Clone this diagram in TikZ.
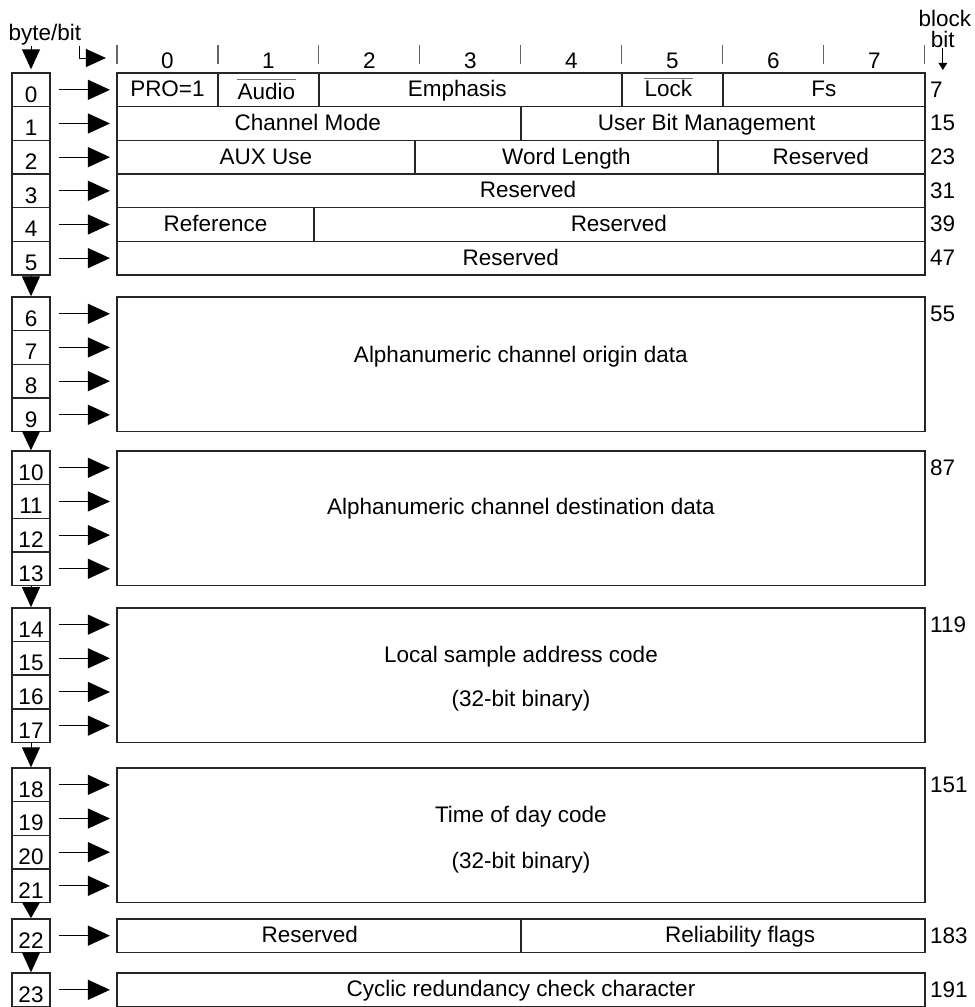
\documentclass[tikz,border=0pt]{standalone}
\usepackage{fontspec}
\setmainfont{Liberation Sans}
\usetikzlibrary{arrows.meta,positioning}

\begin{document}
\begin{tikzpicture}[x=2.525cm, y=-0.8415cm,
    every node/.style={font=\fontsize{16}{19}\selectfont},
    cell/.style={draw=black!85, line width=1pt},
    fieldtext/.style={anchor=base},
    bitnum/.style={anchor=base west, inner sep=0pt},
    bytebox/.style={draw=black!85, line width=1pt, inner sep=0pt,
        minimum width=0.95cm, minimum height=0.8415cm, text height=0.62cm, text depth=0pt},
    bytearrow/.style={-{Triangle[length=0.55cm, width=0.5cm]}, line width=0.7pt,
        shorten <=0.2cm, shorten >=0.175cm},
    tick/.style={draw=black!60, line width=0.8pt},
    overbar/.style={draw=black!55, line width=0.8pt, shorten <=0.11cm, shorten >=0.11cm}]

\useasboundingbox (-1.158,-2.169) rectangle (8.495,27.75);

% Header: bit numbers and ticks
\foreach \x in {0,...,8} {
    \draw[tick] (\x,-0.83) -- (\x,-0.27);
}
\foreach \x in {0,...,7} {
    \node[fieldtext] (c\x) at (\x+0.5,-0.12) {\x};
}

\node[anchor=base, inner sep=0pt] (bytebit) at (-0.713,-0.951) {byte/bit};
\node[anchor=base, inner sep=0pt] (block) at (8.198,-1.367) {block};
\node[anchor=base, inner sep=0pt] (bitlbl) at (8.178,-0.743) {bit};
\coordinate (bitaxis) at (-0.109,-0.446);
\coordinate (blockaxis) at (8.178,-0.089);

% Byte boxes on the left, with their arrows
\foreach \i/\t in {0/0,1/1,2/2,3/3,4/4,5/5,6/6.655,7/7.655,8/8.655,9/9.655,
        10/11.23,11/12.23,12/13.23,13/14.23,14/15.89,15/16.89,16/17.89,17/18.89,
        18/20.65,19/21.65,20/22.65,21/23.65,22/25.13,23/26.74} {
    \node[bytebox] (b\i) at (-0.851,\t+0.5) {\i};
    \coordinate (r\i) at (0,\t+0.5);
    \draw[bytearrow] (b\i) -- (r\i);
}

% Arrows between the groups of bytes
\foreach \a/\b/\l in {5/6/0.5,9/10/0.48,13/14/0.5,17/18/0.5,21/22/0.4,22/23/0.5} {
    \draw[-{Triangle[length=\l cm, width=0.45cm]}, line width=0.7pt] (b\a) -- (b\b);
}

\draw[-{Triangle[length=0.5cm, width=0.45cm]}, line width=0.7pt, shorten >=0.075cm]
    (bytebit.south -| b0.north) -- (b0.north);
\draw[-{Triangle[length=0.5cm, width=0.45cm]}, line width=0.7pt]
    ([xshift=-0.05cm]bytebit.south east) |- (bitaxis);
\draw[-{Triangle[length=0.18cm, width=0.22cm]}, line width=0.7pt] (bitlbl.south) -- (blockaxis);

% Single-row fields
\foreach \xa/\xb/\t/\nm/\xc/\txt in {0/1/0/pro/0.5/PRO=1, 2/5/0/emph/3.37/Emphasis,
        6/8/0/fs/7/Fs, 0/4/1/chmode/1.89/Channel Mode, 4/8/1/userbit/5.84/User Bit Management,
        0/2.95/2/aux/1.475/AUX Use, 2.95/5.95/2/wordlen/4.45/Word Length,
        5.95/8/2/resa/6.97/Reserved, 0/8/3/resb/4.07/Reserved,
        0/1.95/4/ref/0.975/Reference, 1.95/8/4/resc/4.97/Reserved,
        0/8/5/resd/3.9/Reserved, 0/4/25.13/rese/1.91/Reserved,
        4/8/25.13/relflags/6.17/Reliability flags,
        0/8/26.74/crc/4/Cyclic redundancy check character} {
    \draw[cell] (\xa,\t) rectangle (\xb,\t+1);
    \node[fieldtext] (\nm) at (\xc,\t+0.71) {\txt};
}

% Barred fields
\draw[cell] (1,0) rectangle (2,1);
\node[fieldtext, inner ysep=0.26em] (audio) at (1.48,0.8) {Audio};
\draw[overbar] (audio.north west) -- (audio.north east);
\draw[cell] (5,0) rectangle (6,1);
\node[fieldtext, inner ysep=0.13em] (lock) at (5.46,0.71) {Lock};
\draw[overbar] (lock.north west) -- (lock.north east);

% Four-byte blocks
\foreach \t in {6.655,11.23,15.89,20.65} {
    \draw[cell] (0,\t) rectangle (8,\t+4);
}
\node[fieldtext] (origin) at (4,6.655+1.95) {Alphanumeric channel origin data};
\node[fieldtext] (dest) at (4,11.23+1.88) {Alphanumeric channel destination data};
\node[fieldtext] (local) at (4,15.89+1.62) {Local sample address code};
\node[fieldtext] (localbin) at (4,15.89+2.94) {(32-bit binary)};
\node[fieldtext] (tod) at (4,20.65+1.63) {Time of day code};
\node[fieldtext] (todbin) at (4,20.65+2.97) {(32-bit binary)};

% Block bit numbers on the right
\foreach \t/\n in {0/7,1/15,2/23,3/31,4/39,5/47,6.655/55,11.23/87,15.89/119,
        20.65/151,25.13/183,26.74/191} {
    \node[bitnum] (n\n) at (8.05,\t+0.72) {\n};
}

\end{tikzpicture}
\end{document}
